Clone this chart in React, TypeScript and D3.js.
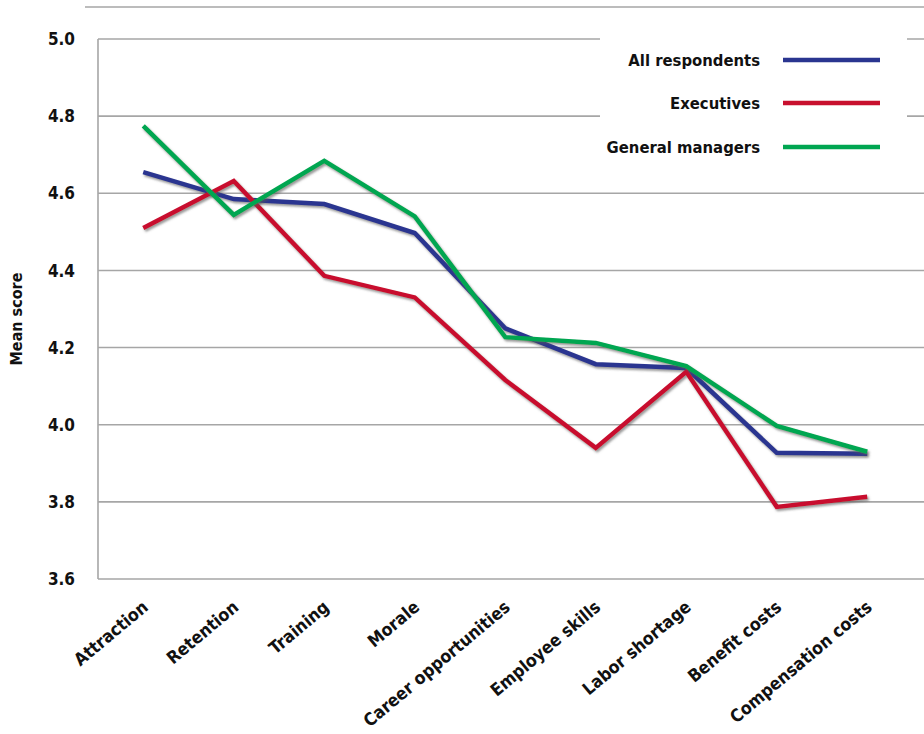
import React, {useEffect, useRef} from 'react';
import * as d3 from 'd3';

const categories = [
  "Attraction", "Retention", "Training", "Morale", "Career opportunities",
  "Employee skills", "Labor shortage", "Benefit costs", "Compensation costs",
];
const allRespondents = [4.655, 4.585, 4.572, 4.497, 4.25, 4.157, 4.147, 3.927, 3.925];
const executives = [4.51, 4.632, 4.386, 4.33, 4.116, 3.94, 4.137, 3.787, 3.813];
const generalManagers = [4.775, 4.544, 4.684, 4.54, 4.227, 4.212, 4.152, 3.997, 3.93];
const yTicks = [3.6, 3.8, 4.0, 4.2, 4.4, 4.6, 4.8, 5.0];

const seriesNames = ["All respondents", "Executives", "General managers"];
const seriesColors = ["#2a3590", "#c8102e", "#00a651"];

const W = 924, H = 734;
const FONT = "'DejaVu Sans Condensed', 'DejaVu Sans', sans-serif";

const App: React.FC = () => {
  const ref = useRef<SVGSVGElement>(null);

  useEffect(() => {
    const svg = d3.select(ref.current);
    svg.selectAll("*").remove();

    const left = 98, right = 912.5, top = 39, bottom = 579;

    const x = d3.scalePoint<string>().domain(categories).range([left, right]).padding(0.5);
    const y = d3.scaleLinear().domain([3.6, 5.0]).range([bottom, top]);

    const defs = svg.append("defs");
    const f = defs.append("filter").attr("id", "shadow")
    .attr("x", "-5%").attr("y", "-5%").attr("width", "110%").attr("height", "120%");
    f.append("feDropShadow")
    .attr("dx", 1.5).attr("dy", 2).attr("stdDeviation", 1.2)
    .attr("flood-color", "#555").attr("flood-opacity", 0.6);

    // top frame line
    svg.append("line")
    .attr("x1", 85).attr("x2", W).attr("y1", 7).attr("y2", 7)
    .attr("stroke", "#a6a6a6").attr("stroke-width", 1.6);

    // gridlines
    svg.append("g")
    .selectAll("line")
    .data(yTicks)
    .join("line")
    .attr("x1", left).attr("x2", W)
    .attr("y1", d => y(d)).attr("y2", d => y(d))
    .attr("stroke", "#a6a6a6").attr("stroke-width", 1.6);

    // y axis line
    svg.append("line")
    .attr("x1", left).attr("x2", left).attr("y1", top).attr("y2", bottom)
    .attr("stroke", "#a6a6a6").attr("stroke-width", 1.6);

    // y tick labels
    svg.append("g")
    .attr("text-anchor", "end")
    .selectAll("text")
    .data(yTicks)
    .join("text")
    .attr("x", 75)
    .attr("y", d => y(d))
    .attr("dy", "0.36em")
    .attr("font-family", FONT).attr("font-weight", 700).attr("font-size", 17)
    .attr("fill", "#111")
    .text(d => d.toFixed(1));

    svg.append("text")
    .attr("transform", `translate(22, ${(top + bottom) / 2 + 10}) rotate(-90)`)
    .attr("text-anchor", "middle")
    .attr("font-family", FONT).attr("font-weight", 700).attr("font-size", 16)
    .attr("fill", "#111")
    .text("Mean score");

    // x labels
    svg.append("g")
    .attr("text-anchor", "end")
    .selectAll("text")
    .data(categories)
    .join("text")
    .attr("transform", d => `translate(${x(d)! + 6}, 609) rotate(-40)`)
    .attr("font-family", FONT).attr("font-weight", 700).attr("font-size", 17.5)
    .attr("fill", "#111")
    .text(d => d);

    // legend box (white, covers gridlines)
    svg.append("rect")
    .attr("x", 600).attr("y", 28).attr("width", 307).attr("height", 140)
    .attr("fill", "white");

    const line = d3.line<number>()
    .x((_, i) => x(categories[i])!)
    .y(d => y(d));

    const allSeries = [allRespondents, executives, generalManagers];
    svg.append("g")
    .selectAll("path")
    .data(allSeries)
    .join("path")
    .attr("d", d => line(d))
    .attr("fill", "none")
    .attr("stroke", (_, i) => seriesColors[i])
    .attr("stroke-width", 4.5)
    .attr("stroke-linejoin", "miter")
    .attr("filter", "url(#shadow)");

    const lg = svg.append("g")
    .selectAll("g")
    .data(seriesNames)
    .join("g")
    .attr("transform", (_, i) => `translate(0, ${[60, 103, 147][i]})`);

    lg.append("text")
    .attr("x", 760).attr("dy", "0.35em")
    .attr("text-anchor", "end")
    .attr("font-family", FONT).attr("font-weight", 700).attr("font-size", 16.5)
    .attr("fill", "#111")
    .text(d => d);

    lg.append("line")
    .attr("x1", 783).attr("x2", 880)
    .attr("stroke", (_, i) => seriesColors[i])
    .attr("stroke-width", 4.5);
  }, []);

  return (
    <svg ref={ref} width={W} height={H}
         style={{position: "absolute", left: 0, top: 0, background: "white"}}/>
  );
};

export default App;
